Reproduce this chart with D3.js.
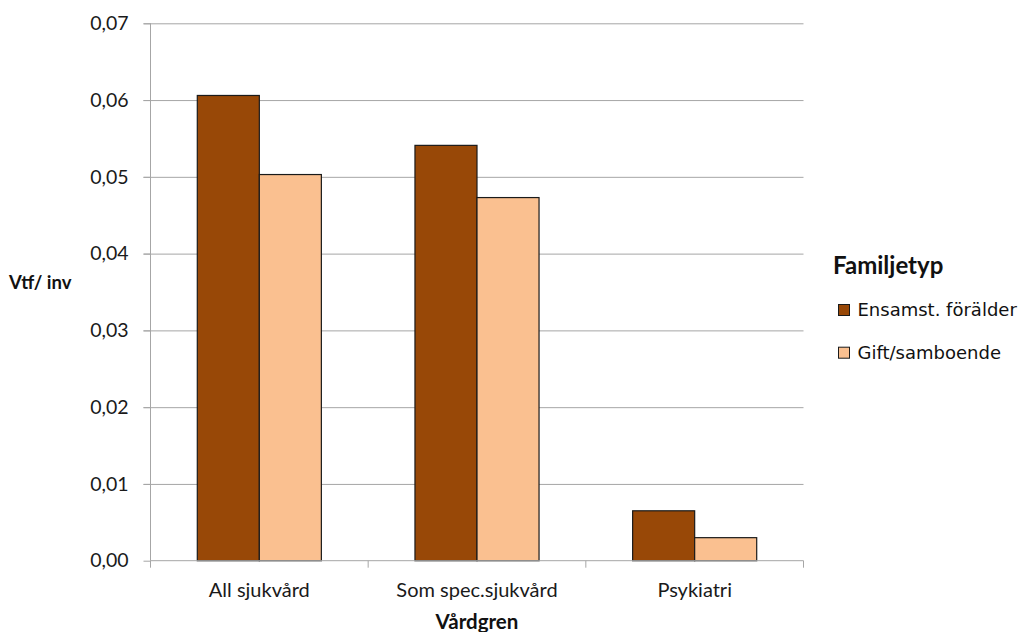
<!DOCTYPE html>
<html>
<head>
<meta charset="utf-8">
<script src="https://cdn.jsdelivr.net/npm/d3@7"></script>
<style>
  html, body { margin: 0; padding: 0; background: #ffffff; }
  svg { display: block; }
</style>
</head>
<body>
<svg id="chart" width="1030" height="632"></svg>
<script>
// Vårdtillfällen per invånare by care branch and family type
const categories = ["All sjukvård", "Som spec.sjukvård", "Psykiatri"];
const seriesNames = ["Ensamst. förälder", "Gift/samboende"];
const ensamstForalder = [0.0606, 0.0541, 0.0065];
const giftSamboende = [0.0503, 0.0473, 0.0030];
const yTicks = [0, 0.01, 0.02, 0.03, 0.04, 0.05, 0.06, 0.07];
const seriesColors = ["#984807", "#FAC090"];

const seriesValues = [ensamstForalder, giftSamboende];
const rows = categories.map((c, i) => ({
  category: c,
  values: seriesNames.map((s, j) => ({ series: s, idx: j, value: seriesValues[j][i] }))
}));

const svg = d3.select("#chart");
const plot = { left: 150.5, right: 803.5, top: 23.3, bottom: 560.7 };

const x = d3.scaleBand()
  .domain(categories)
  .range([plot.left, plot.right])
  .paddingInner(0.43)
  .paddingOuter(0.215);

const xSeries = d3.scaleBand()
  .domain(d3.range(seriesNames.length))
  .range([0, x.bandwidth()]);

const y = d3.scaleLinear()
  .domain([0, 0.07])
  .range([plot.bottom, plot.top]);

const color = d3.scaleOrdinal().domain(d3.range(seriesNames.length)).range(seriesColors);

const fmt = v => d3.format(".2f")(v).replace(".", ",");
const gridColor = "#a6a6a6";

// horizontal gridlines with short tick stubs left of the axis
svg.append("g")
  .attr("transform", `translate(${plot.right},0)`)
  .call(d3.axisLeft(y).tickValues(yTicks.filter(d => d > 0))
    .tickSize(plot.right - plot.left + 7).tickFormat(""))
  .call(g => g.select(".domain").remove())
  .call(g => g.selectAll(".tick line").attr("stroke", gridColor).attr("stroke-width", 1));

// y axis
svg.append("g")
  .attr("transform", `translate(${plot.left},0)`)
  .call(d3.axisLeft(y).tickValues(yTicks).tickSize(7).tickPadding(15).tickFormat(fmt))
  .call(g => g.select(".domain").attr("stroke", gridColor).attr("d", `M0,${plot.bottom}V${plot.top}`))
  .call(g => g.selectAll(".tick line").attr("stroke", gridColor))
  .call(g => g.selectAll(".tick text")
    .attr("font-family", "Lato, 'Open Sans', sans-serif")
    .attr("font-size", 19.5)
    .attr("fill", "#1a1a1a"));

// bars
const groups = svg.append("g").selectAll("g")
  .data(rows)
  .join("g")
  .attr("transform", d => `translate(${x(d.category)},0)`);

groups.selectAll("rect")
  .data(d => d.values)
  .join("rect")
  .attr("x", d => xSeries(d.idx))
  .attr("y", d => y(d.value))
  .attr("width", xSeries.bandwidth())
  .attr("height", d => y(0) - y(d.value))
  .attr("fill", d => color(d.idx))
  .attr("stroke", "#1a1a1a")
  .attr("stroke-width", 1.2);

// x axis with boundary ticks between categories
const boundaries = [plot.left, ...categories.map(c => x(c) + x.bandwidth() + x.step() * x.paddingInner() / 2).slice(0, -1), plot.right];
const xAxis = svg.append("g").attr("class", "x-axis");
xAxis.append("line")
  .attr("x1", plot.left).attr("x2", plot.right)
  .attr("y1", plot.bottom).attr("y2", plot.bottom)
  .attr("stroke", gridColor).attr("stroke-width", 1);
xAxis.selectAll("line.tickmark")
  .data(boundaries)
  .join("line")
  .attr("class", "tickmark")
  .attr("x1", d => d).attr("x2", d => d)
  .attr("y1", plot.bottom).attr("y2", plot.bottom + 7)
  .attr("stroke", gridColor);
xAxis.selectAll("text")
  .data(categories)
  .join("text")
  .attr("x", d => x(d) + x.bandwidth() / 2)
  .attr("y", 597)
  .attr("text-anchor", "middle")
  .attr("font-family", "Lato, 'Open Sans', sans-serif")
  .attr("font-size", 20)
  .attr("fill", "#1a1a1a")
  .text(d => d);

// axis titles
svg.append("text")
  .attr("x", (plot.left + plot.right) / 2)
  .attr("y", 629)
  .attr("text-anchor", "middle")
  .attr("font-family", "Lato, 'Open Sans', sans-serif")
  .attr("font-weight", "bold")
  .attr("font-size", 20.5)
  .attr("fill", "#111")
  .text("Vårdgren");

svg.append("text")
  .attr("x", 9)
  .attr("y", 289)
  .attr("font-family", "Lato, 'Open Sans', sans-serif")
  .attr("font-weight", "bold")
  .attr("font-size", 18.5)
  .attr("fill", "#111")
  .text("Vtf/ inv");

// legend
const legend = svg.append("g").attr("class", "legend");
legend.append("text")
  .attr("x", 833)
  .attr("y", 274)
  .attr("font-family", "Lato, 'Open Sans', sans-serif")
  .attr("font-weight", "bold")
  .attr("font-size", 24)
  .attr("fill", "#111")
  .text("Familjetyp");

const items = legend.selectAll("g.item")
  .data(seriesNames)
  .join("g")
  .attr("class", "item")
  .attr("transform", (d, i) => `translate(838.5,${304.5 + i * 42.7})`);
items.append("rect")
  .attr("width", 11).attr("height", 11)
  .attr("fill", (d, i) => color(i))
  .attr("stroke", "#1a1a1a").attr("stroke-width", 1);
items.append("text")
  .attr("x", 19)
  .attr("y", 11.5)
  .attr("font-family", "'DejaVu Sans', Verdana, sans-serif")
  .attr("font-size", 18)
  .attr("fill", "#111")
  .text(d => d);
</script>
</body>
</html>
